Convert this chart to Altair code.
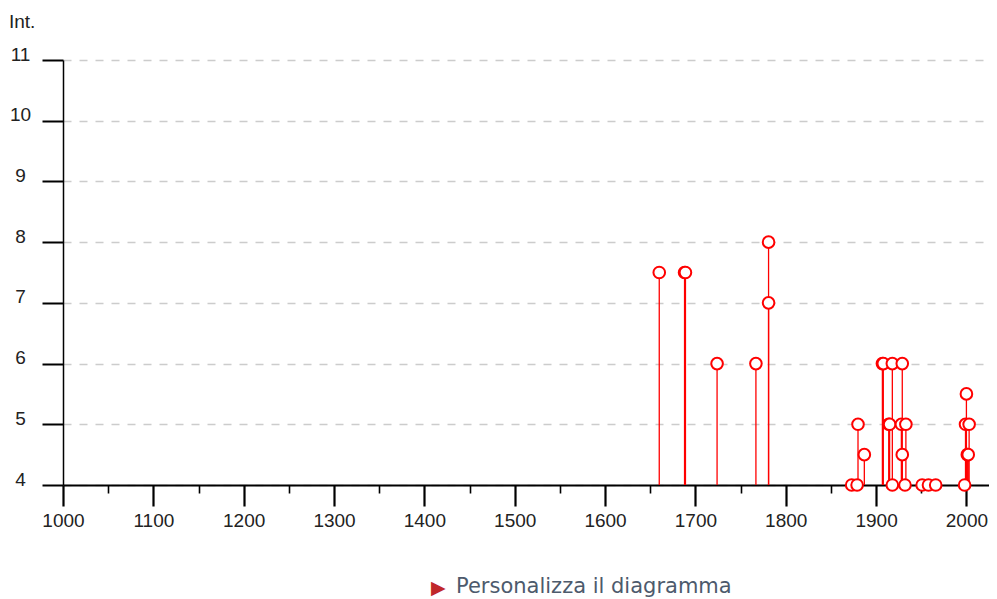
import altair as alt
import pandas as pd

# Event years and intensities
years = [1660, 1688, 1689, 1724, 1767, 1781, 1781,
         1873, 1879, 1880, 1887,
         1907, 1908, 1914, 1915, 1918, 1918, 1928, 1929, 1929, 1932, 1933,
         1951, 1958, 1966,
         1998, 1999, 2000, 2001, 2002, 2003]
intensity = [7.5, 7.5, 7.5, 6, 6, 8, 7,
             4, 4, 5, 4.5,
             6, 6, 5, 5, 6, 4, 5, 4.5, 6, 4, 5,
             4, 4, 4,
             4, 5, 5.5, 4.5, 4.5, 5]

x_ticks = list(range(1000, 2001, 50))
y_ticks = [4, 5, 6, 7, 8, 9, 10, 11]
x_domain = [1000, 2025]
y_domain = [4, 11]
y_title = "Int."
footer = "Personalizza il diagramma"

df = pd.DataFrame({"year": years, "int": intensity})

xscale = alt.Scale(domain=x_domain, nice=False, zero=False)
yscale = alt.Scale(domain=y_domain, nice=False, zero=False)

xaxis = alt.Axis(
    values=x_ticks,
    title=None,
    grid=False,
    domainColor="black",
    domainWidth=2,
    tickColor="black",
    tickSize={"condition": {"test": "datum.value % 100 === 0", "value": 21}, "value": 8},
    tickWidth={"condition": {"test": "datum.value % 100 === 0", "value": 2.2}, "value": 1.6},
    labelExpr="datum.value % 100 === 0 ? datum.label : ''",
    labelFont="Liberation Sans",
    labelFontSize=19,
    labelColor="#222222",
    labelPadding=5,
    labelFlush=False,
    labelOverlap=False,
    format="d",
)

yaxis = alt.Axis(
    values=y_ticks,
    title=None,
    grid=True,
    gridColor="#cccccc",
    gridDash=[8, 8],
    gridWidth=1.5,
    domainColor="black",
    domainWidth=1.5,
    tickColor="black",
    tickSize=21,
    tickWidth=2,
    labelAlign="center",
    labelBaseline="alphabetic",
    labelPadding=22,
    labelFont="Liberation Sans",
    labelFontSize=19,
    labelColor="#222222",
    labelFlush=False,
    format="d",
)

base = alt.Chart(df)

rules = base.mark_rule(color="#ff0000", strokeWidth=1.3).encode(
    x=alt.X("year:Q", scale=xscale, axis=xaxis),
    y=alt.Y("int:Q", scale=yscale, axis=yaxis),
    y2=alt.datum(4),
)

points = base.mark_point(
    shape="circle", filled=True, fill="white", stroke="#ff0000",
    strokeWidth=2, size=135, opacity=1,
).encode(
    x=alt.X("year:Q", scale=xscale),
    y=alt.Y("int:Q", scale=yscale),
)

title_txt = alt.Chart(pd.DataFrame({"t": [y_title]})).mark_text(
    align="left", baseline="middle", font="Liberation Sans", fontSize=19, color="#222222"
).encode(x=alt.value(-54), y=alt.value(-38), text="t:N")

tri = alt.Chart(pd.DataFrame({"t": ["▶"]})).mark_text(
    align="left", baseline="middle", font="DejaVu Sans", fontSize=19, color="#c0282a"
).encode(x=alt.value(368), y=alt.value(528), text="t:N")

foot = alt.Chart(pd.DataFrame({"t": [footer]})).mark_text(
    align="left", baseline="middle", font="DejaVu Sans", fontSize=21, color="#4d5a6c"
).encode(x=alt.value(393), y=alt.value(527), text="t:N")

chart = alt.layer(rules, points, title_txt, tri, foot).properties(
    width=926,
    height=425,
    padding={"left": 55, "top": 52, "right": 0, "bottom": 114},
    autosize="none",
).configure_view(strokeWidth=0)

chart.save("out.html", embed_options={"renderer": "svg", "actions": False})
